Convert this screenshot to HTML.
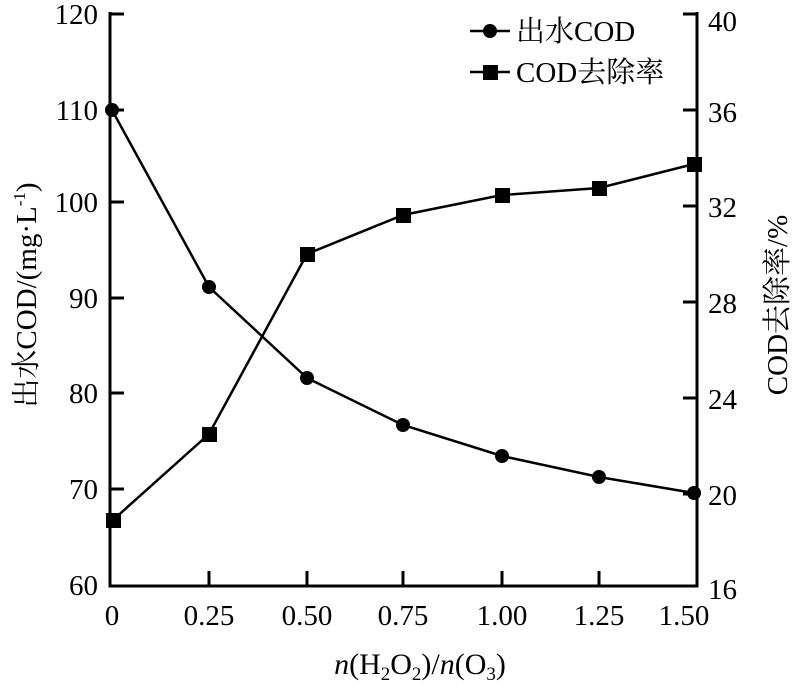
<!DOCTYPE html>
<html><head><meta charset="utf-8"><style>
body{margin:0;background:#fff}
text{font-family:"Liberation Serif","Noto Serif CJK SC",serif;fill:#000}
</style></head><body>
<svg width="795" height="683" viewBox="0 0 795 683" xmlns="http://www.w3.org/2000/svg">
<g stroke="#000" stroke-width="3" fill="none">
<polyline points="110,12 110,586 697,586 697,12"/>
<path d="M110,14h14M110,110h14M110,202h14M110,298h14M110,393h14M110,489h14"/>
<path d="M697,14h-14M697,110h-14M697,206h-14M697,302h-14M697,398h-14M697,494h-14"/>
<path d="M209,586v-15M307,586v-15M403,586v-15M502,586v-15M599,586v-15"/>
<polyline stroke-width="2.5" points="112,110 209,287 307,378 403,425 502,456 599,477 694,493"/>
<polyline stroke-width="2.5" points="113,520 209,434 307,254 403,215 502,195 599,188 694,164"/>
<path stroke-width="2.5" d="M470,31h40M470,72h40"/>
</g>
<g fill="#000">
<circle cx="112" cy="110" r="7"/><circle cx="209" cy="287" r="7"/><circle cx="307" cy="378" r="7"/><circle cx="403" cy="425" r="7"/><circle cx="502" cy="456" r="7"/><circle cx="599" cy="477" r="7"/><circle cx="694" cy="493" r="7"/>
<rect x="106" y="513" width="15" height="15"/><rect x="202" y="427" width="15" height="15"/><rect x="300" y="247" width="15" height="15"/><rect x="396" y="208" width="15" height="15"/><rect x="495" y="188" width="15" height="15"/><rect x="592" y="181" width="15" height="15"/><rect x="687" y="157" width="15" height="15"/>
<circle cx="490" cy="31" r="7"/><rect x="483" y="65" width="15" height="15"/>
</g>
<g font-size="29" text-anchor="end">
<text x="98" y="24">120</text><text x="98" y="120">110</text><text x="98" y="212">100</text><text x="98" y="308">90</text><text x="98" y="403">80</text><text x="98" y="499">70</text><text x="98" y="595">60</text>
</g>
<g font-size="29" text-anchor="start">
<text x="708" y="31">40</text><text x="708" y="122">36</text><text x="708" y="217">32</text><text x="708" y="313">28</text><text x="708" y="409">24</text><text x="708" y="505">20</text><text x="708" y="599">16</text>
</g>
<g font-size="29" text-anchor="middle">
<text x="112" y="625">0</text><text x="209" y="625">0.25</text><text x="307" y="625">0.50</text><text x="403" y="625">0.75</text><text x="502" y="625">1.00</text><text x="599" y="625">1.25</text><text x="684" y="625">1.50</text>
</g>
<text x="420" y="674" font-size="30" text-anchor="middle"><tspan font-style="italic">n</tspan>(H<tspan font-size="19" dy="6">2</tspan><tspan dy="-6">O</tspan><tspan font-size="19" dy="6">2</tspan><tspan dy="-6">)/</tspan><tspan font-style="italic">n</tspan>(O<tspan font-size="19" dy="6">3</tspan><tspan dy="-6">)</tspan></text>
<text transform="translate(36,295) rotate(-90)" font-size="29" text-anchor="middle">出水COD/(mg·L<tspan font-size="17" dy="-11">-1</tspan><tspan dy="11">)</tspan></text>
<text transform="translate(787,305) rotate(-90)" font-size="29" text-anchor="middle">COD去除率/%</text>
<text x="516" y="41" font-size="29">出水COD</text>
<text x="516" y="82" font-size="29">COD去除率</text>
</svg>
</body></html>
